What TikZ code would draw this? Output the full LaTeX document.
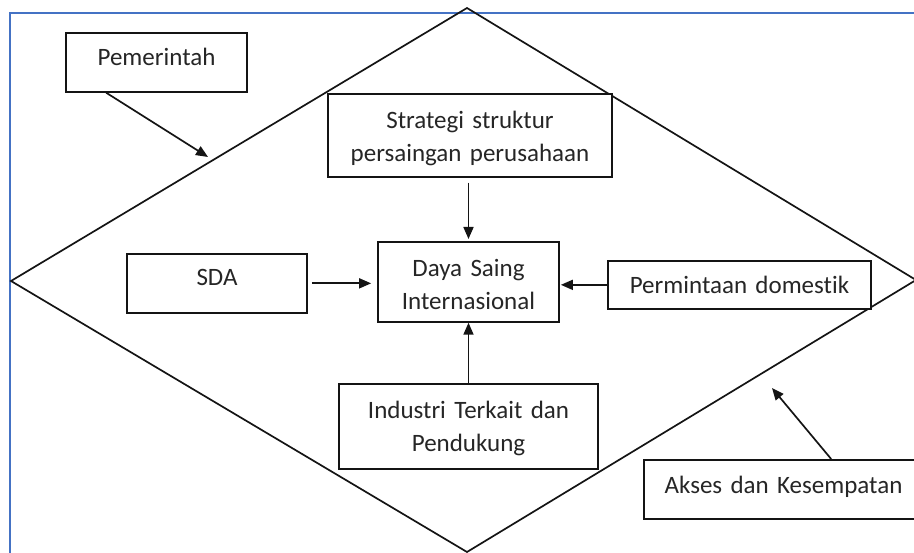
\documentclass[tikz,border=0pt]{standalone}
\usepackage{fontspec}
\setmainfont{Carlito}[Ligatures={NoCommon}]
\usetikzlibrary{arrows.meta,calc}
\definecolor{framebl}{RGB}{68,114,196}
\definecolor{txt}{RGB}{38,38,38}
\definecolor{ln}{RGB}{20,20,20}
\begin{document}
\begin{tikzpicture}[x=1pt,y=-1pt,
  font=\fontsize{25}{33}\selectfont,
  box/.style={draw=ln, line width=1.7pt, fill=white, text=txt, align=center,
    inner xsep=0pt, inner ysep=0pt, anchor=north},
  arr/.style={draw=ln, line width=1.7pt, -{Triangle[length=12pt,width=10pt]}},
  edge/.style={draw=ln, line width=1.7pt, line join=miter}]
\useasboundingbox (0,0) rectangle (914,553);
\clip (0,0) rectangle (914,553);
% frame
\draw[framebl, line width=1.6pt] (10,560) -- (10,13) -- (920,13);
% diamond
\coordinate (dtop) at (467,8);
\coordinate (dright) at (916,280);
\coordinate (dbot) at (467,552);
\coordinate (dleft) at (11,281);
\draw[edge] (dtop) -- (dright) -- (dbot) -- (dleft) -- cycle;
% boxes
\node[box, text width=181pt, text height=33pt, text depth=26pt] (pem) at (156.5,32) {Pemerintah};
\node[box, text width=284pt, text height=35pt, text depth=48pt] (strat) at (470,93) {Strategi struktur\\persaingan perusahaan};
\node[box, text width=181pt, text height=35pt, text depth=45pt] (daya) at (468.5,241) {Daya Saing\\Internasional};
\node[box, text width=180pt, text height=32pt, text depth=27pt] (sda) at (217,253) {SDA};
\node[box, text width=263pt, text height=33pt, text depth=15pt] (perm) at (739.5,260) {Permintaan domestik};
\node[box, text width=259pt, text height=35pt, text depth=50pt] (ind) at (468.5,383) {Industri Terkait dan\\Pendukung};
\node[box, text width=279pt, text height=34pt, text depth=25pt] (akses) at (783.5,459) {Akses dan Kesempatan};
% connectors
\coordinate (pemtip) at (208,157);
\coordinate (aktip) at (772,388);
\draw[arr] ($(pem.south west)+(41,0)$) -- (pemtip);
\draw[arr, shorten <=5pt, shorten >=2pt] (daya.north |- strat.south) -- (daya.north);
\draw[arr, shorten <=4pt, shorten >=6pt] (sda.east) -- (sda.east -| daya.west);
\draw[arr, shorten >=1pt] (perm.west) -- (perm.west -| daya.east);
\draw[arr] (daya.south |- ind.north) -- (daya.south);
\draw[arr] ($(akses.north west)+(188,0)$) -- (aktip);
\end{tikzpicture}
\end{document}
